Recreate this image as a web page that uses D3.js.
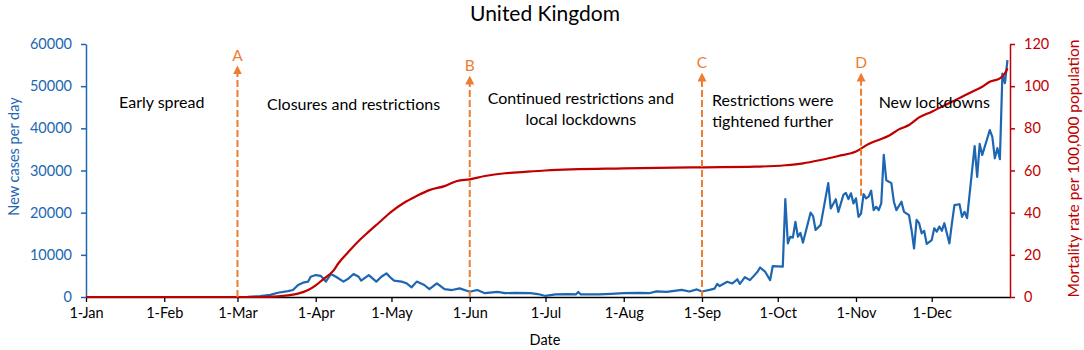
<html>
<head>
<script src="https://d3js.org/d3.v7.min.js"></script>
<style>
  body { margin: 0; background: #fff; }
  text { font-family: Lato, "Open Sans", sans-serif; }
</style>
</head>
<body>
<svg id="chart" width="1084" height="350"></svg>
<script>
// new cases per day (UK, 2020)
const newCases = [
  ["2020-01-01",0],["2020-02-29",0],["2020-03-05",50],["2020-03-10",200],["2020-03-14",500],
  ["2020-03-17",1000],["2020-03-21",1400],["2020-03-23",1650],["2020-03-25",2850],["2020-03-27",3400],
  ["2020-03-29",3650],["2020-03-30",4800],["2020-04-01",5200],["2020-04-03",5000],["2020-04-04",4400],
  ["2020-04-05",3650],["2020-04-07",5450],["2020-04-09",4800],["2020-04-12",3650],["2020-04-14",4400],
  ["2020-04-16",5450],["2020-04-18",4800],["2020-04-19",3900],["2020-04-22",5200],["2020-04-25",3650],
  ["2020-04-27",4800],["2020-04-29",5600],["2020-05-01",4400],["2020-05-02",3900],["2020-05-05",3650],
  ["2020-05-07",3250],["2020-05-09",2300],["2020-05-11",3650],["2020-05-14",2850],["2020-05-16",1850],
  ["2020-05-19",3250],["2020-05-22",1850],["2020-05-25",1650],["2020-05-28",2050],["2020-06-01",1250],
  ["2020-06-04",1650],["2020-06-07",900],["2020-06-12",1200],["2020-06-15",900],["2020-06-19",1000],
  ["2020-06-25",900],["2020-06-28",700],["2020-07-01",250],["2020-07-05",640],["2020-07-10",700],
  ["2020-07-13",600],["2020-07-14",1200],["2020-07-15",600],["2020-07-22",600],["2020-07-27",750],
  ["2020-08-01",900],["2020-08-07",1000],["2020-08-11",900],["2020-08-14",1350],["2020-08-18",1200],
  ["2020-08-24",1700],["2020-08-27",1300],["2020-08-30",1800],["2020-09-01",1300],["2020-09-04",1700],
  ["2020-09-06",2000],["2020-09-07",3100],["2020-09-08",2600],["2020-09-11",3600],["2020-09-13",3200],
  ["2020-09-15",4200],["2020-09-16",3100],["2020-09-18",4700],["2020-09-20",4000],["2020-09-23",6000],
  ["2020-09-24",7000],["2020-09-26",6000],["2020-09-28",4000],["2020-09-29",7300],["2020-10-03",7200],
  ["2020-10-04",23200],["2020-10-05",12700],["2020-10-06",14300],["2020-10-07",14100],["2020-10-08",17800],
  ["2020-10-09",14300],["2020-10-10",15200],["2020-10-11",12900],["2020-10-14",20000],["2020-10-15",19200],
  ["2020-10-16",15900],["2020-10-18",17100],["2020-10-21",27000],["2020-10-22",21000],["2020-10-24",23200],
  ["2020-10-25",20200],["2020-10-27",24200],["2020-10-28",24700],["2020-10-29",23200],["2020-10-30",24600],
  ["2020-10-31",22200],["2020-11-01",23400],["2020-11-02",19000],["2020-11-03",19800],["2020-11-04",24400],
  ["2020-11-05",23400],["2020-11-06",23800],["2020-11-07",25200],["2020-11-08",20600],["2020-11-09",21400],
  ["2020-11-10",20600],["2020-11-11",22200],["2020-11-12",33700],["2020-11-13",27700],["2020-11-15",27000],
  ["2020-11-16",22600],["2020-11-17",20600],["2020-11-19",22600],["2020-11-20",20200],["2020-11-22",19400],
  ["2020-11-23",15900],["2020-11-24",11500],["2020-11-25",18300],["2020-11-26",17500],["2020-11-27",15100],
  ["2020-11-28",15700],["2020-11-29",12600],["2020-12-01",13500],["2020-12-02",16300],["2020-12-03",15500],
  ["2020-12-04",16700],["2020-12-05",15700],["2020-12-06",17500],["2020-12-08",12700],["2020-12-09",17500],
  ["2020-12-10",21800],["2020-12-12",22000],["2020-12-13",19000],["2020-12-14",20200],["2020-12-15",18700],
  ["2020-12-18",35800],["2020-12-19",28500],["2020-12-20",36300],["2020-12-21",33700],["2020-12-23",37600],
  ["2020-12-24",39600],["2020-12-25",38000],["2020-12-26",32900],["2020-12-27",35300],["2020-12-28",32700],
  ["2020-12-29",53000],["2020-12-30",50700],["2020-12-31",56200]
];

// cumulative mortality rate per 100,000 population
const mortality = [
  ["2020-01-01",0],["2020-03-10",0],["2020-03-17",0.3],["2020-03-21",0.8],["2020-03-25",1.6],
  ["2020-03-29",3.3],["2020-04-01",5.5],["2020-04-04",8.5],["2020-04-08",12.5],["2020-04-10",16],
  ["2020-04-14",21.5],["2020-04-18",26.6],["2020-04-22",31],["2020-04-26",35.2],["2020-05-01",40.5],
  ["2020-05-06",44.7],["2020-05-11",47.9],["2020-05-16",50.7],["2020-05-22",52.6],["2020-05-27",55],
  ["2020-06-01",55.8],["2020-06-07",57.4],["2020-06-15",58.7],["2020-06-20",59.1],["2020-07-01",60],
  ["2020-08-01",61],["2020-09-01",61.5],["2020-09-22",61.8],["2020-10-04",62.5],["2020-10-11",63.4],
  ["2020-10-18",65],["2020-10-25",66.9],["2020-11-01",69],["2020-11-06",72.6],["2020-11-10",74.5],
  ["2020-11-14",76.5],["2020-11-18",79.5],["2020-11-22",81.6],["2020-11-26",85.2],["2020-12-01",87.9],
  ["2020-12-05",90.3],["2020-12-09",92.6],["2020-12-13",95],["2020-12-17",97.4],["2020-12-21",99.7],
  ["2020-12-24",102.1],["2020-12-28",103.7],["2020-12-30",106.1],["2020-12-31",108.5]
];

const casesTicks = [0, 10000, 20000, 30000, 40000, 50000, 60000];
const mortalityTicks = [0, 20, 40, 60, 80, 100, 120];
const monthTicks = ["2020-01-01","2020-02-01","2020-03-01","2020-04-01","2020-05-01","2020-06-01",
                    "2020-07-01","2020-08-01","2020-09-01","2020-10-01","2020-11-01","2020-12-01"];

// policy change markers
const eventDates = ["2020-03-01", "2020-06-01", "2020-09-01", "2020-11-03"];
const eventLabels = ["A", "B", "C", "D"];

// phase descriptions
const phaseLabels = [
  ["Early spread"],
  ["Closures and restrictions"],
  ["Continued restrictions and", "local lockdowns"],
  ["Restrictions were", "tightened further"],
  ["New lockdowns"]
];

const svg = d3.select("#chart");
const margin = { top: 44, right: 74, bottom: 53, left: 86 };
const width = +svg.attr("width"), height = +svg.attr("height");
const chartWidth = width - margin.left - margin.right;
const chartHeight = height - margin.top - margin.bottom;

const blue = "#1d66b1", red = "#c00000", orange = "#ed7d31";
const parse = d3.timeParse("%Y-%m-%d");

const x = d3.scaleTime().domain([parse("2020-01-01"), parse("2021-01-01")]).range([0, chartWidth]);
const yCases = d3.scaleLinear().domain([0, 60000]).range([chartHeight, 0]);
const yMort = d3.scaleLinear().domain([0, 120]).range([chartHeight, 0]);

const g = svg.append("g").attr("transform", `translate(${margin.left},${margin.top})`);

// title
svg.append("text").attr("x", 545).attr("y", 21).attr("text-anchor", "middle")
  .style("font-size", "21px").attr("fill", "#000").text("United Kingdom");

// axes
let bottomAxis = d3.axisBottom(x).tickValues(monthTicks.map(parse))
  .tickFormat(d3.timeFormat("%-d-%b")).tickSize(5).tickPadding(6).tickSizeOuter(0);
let leftAxis = d3.axisLeft(yCases).tickValues(casesTicks).tickFormat(d3.format("d"))
  .tickSize(5).tickPadding(9).tickSizeOuter(0);
let rightAxis = d3.axisRight(yMort).tickValues(mortalityTicks).tickSize(5).tickPadding(9).tickSizeOuter(0);

const xa = g.append("g").attr("transform", `translate(0,${chartHeight})`).call(bottomAxis);
xa.selectAll("path, line").attr("stroke", "#000").attr("stroke-width", 1.3);
xa.selectAll("text").attr("fill", "#000").style("font-size", "14.5px");

const la = g.append("g").call(leftAxis);
la.selectAll("path, line").attr("stroke", blue).attr("stroke-width", 1.5);
la.selectAll("text").attr("fill", blue).style("font-size", "14.5px");

const ra = g.append("g").attr("transform", `translate(${chartWidth},0)`).call(rightAxis);
ra.selectAll("path, line").attr("stroke", red).attr("stroke-width", 1.5);
ra.selectAll("text").attr("fill", red).style("font-size", "14.5px");

// axis titles
svg.append("text").attr("transform", `translate(19,${margin.top + chartHeight / 2 - 14}) rotate(-90)`)
  .attr("text-anchor", "middle").attr("fill", blue).style("font-size", "14.5px").text("New cases per day");
svg.append("text").attr("transform", `translate(1079,${margin.top + chartHeight / 2 - 2}) rotate(-90)`)
  .attr("text-anchor", "middle").attr("fill", red).style("font-size", "15.5px")
  .text("Mortality rate per 100,000 population");
svg.append("text").attr("x", margin.left + chartWidth / 2 - 3).attr("y", 345).attr("text-anchor", "middle")
  .attr("fill", "#000").style("font-size", "14.5px").text("Date");

// lines
const casesLine = d3.line().x(d => x(parse(d[0]))).y(d => yCases(d[1]));
const mortLine = d3.line().x(d => x(parse(d[0]))).y(d => yMort(d[1])).curve(d3.curveMonotoneX);

g.append("path").datum(newCases).attr("fill", "none").attr("stroke", blue)
  .attr("stroke-width", 2.2).attr("stroke-linejoin", "round").attr("d", casesLine);
g.append("path").datum(mortality).attr("fill", "none").attr("stroke", red)
  .attr("stroke-width", 2.2).attr("stroke-linejoin", "round").attr("d", mortLine);

// event markers: arrow tip and lower end given in cases units
const eventTop = [54800, 52400, 53100, 53100];
const eventBottom = [0, 0, 0, 24000];

svg.append("defs").append("marker")
  .attr("id", "arrow").attr("viewBox", "0 0 10 10").attr("refX", 5).attr("refY", 5)
  .attr("markerWidth", 4.5).attr("markerHeight", 4.5).attr("orient", "auto")
  .append("path").attr("d", "M0,0 L10,5 L0,10 Z").attr("fill", orange);

const ev = g.selectAll("g.event").data(eventDates).join("g").attr("class", "event");
ev.append("line")
  .attr("x1", d => x(parse(d))).attr("x2", d => x(parse(d)))
  .attr("y1", (d, i) => yCases(eventBottom[i]))
  .attr("y2", (d, i) => yCases(eventTop[i]) + 4)
  .attr("stroke", orange).attr("stroke-width", 2).attr("stroke-dasharray", "7,3")
  .attr("marker-end", "url(#arrow)");
ev.append("text")
  .attr("x", d => x(parse(d))).attr("y", (d, i) => yCases(eventTop[i]) - 5)
  .attr("text-anchor", "middle").attr("fill", orange).style("font-size", "15.5px")
  .text((d, i) => eventLabels[i]);

// phase text, centred on a date, baseline in cases units
const phaseCentre = ["2020-01-31", "2020-04-16", "2020-07-15", "2020-09-29", "2020-12-02"];
const phaseBaseline = [44800, 44300, 45700, 45200, 44800];
const ph = g.selectAll("text.phase").data(phaseLabels).join("text").attr("class", "phase")
  .attr("x", (d, i) => x(parse(phaseCentre[i])))
  .attr("y", (d, i) => yCases(phaseBaseline[i]))
  .attr("text-anchor", "middle").attr("fill", "#000").style("font-size", "16px");
ph.selectAll("tspan").data(d => d).join("tspan")
  .attr("x", function() { return this.parentNode.getAttribute("x"); })
  .attr("dy", (d, i) => i === 0 ? 0 : 21)
  .text(d => d);
</script>
</body>
</html>
